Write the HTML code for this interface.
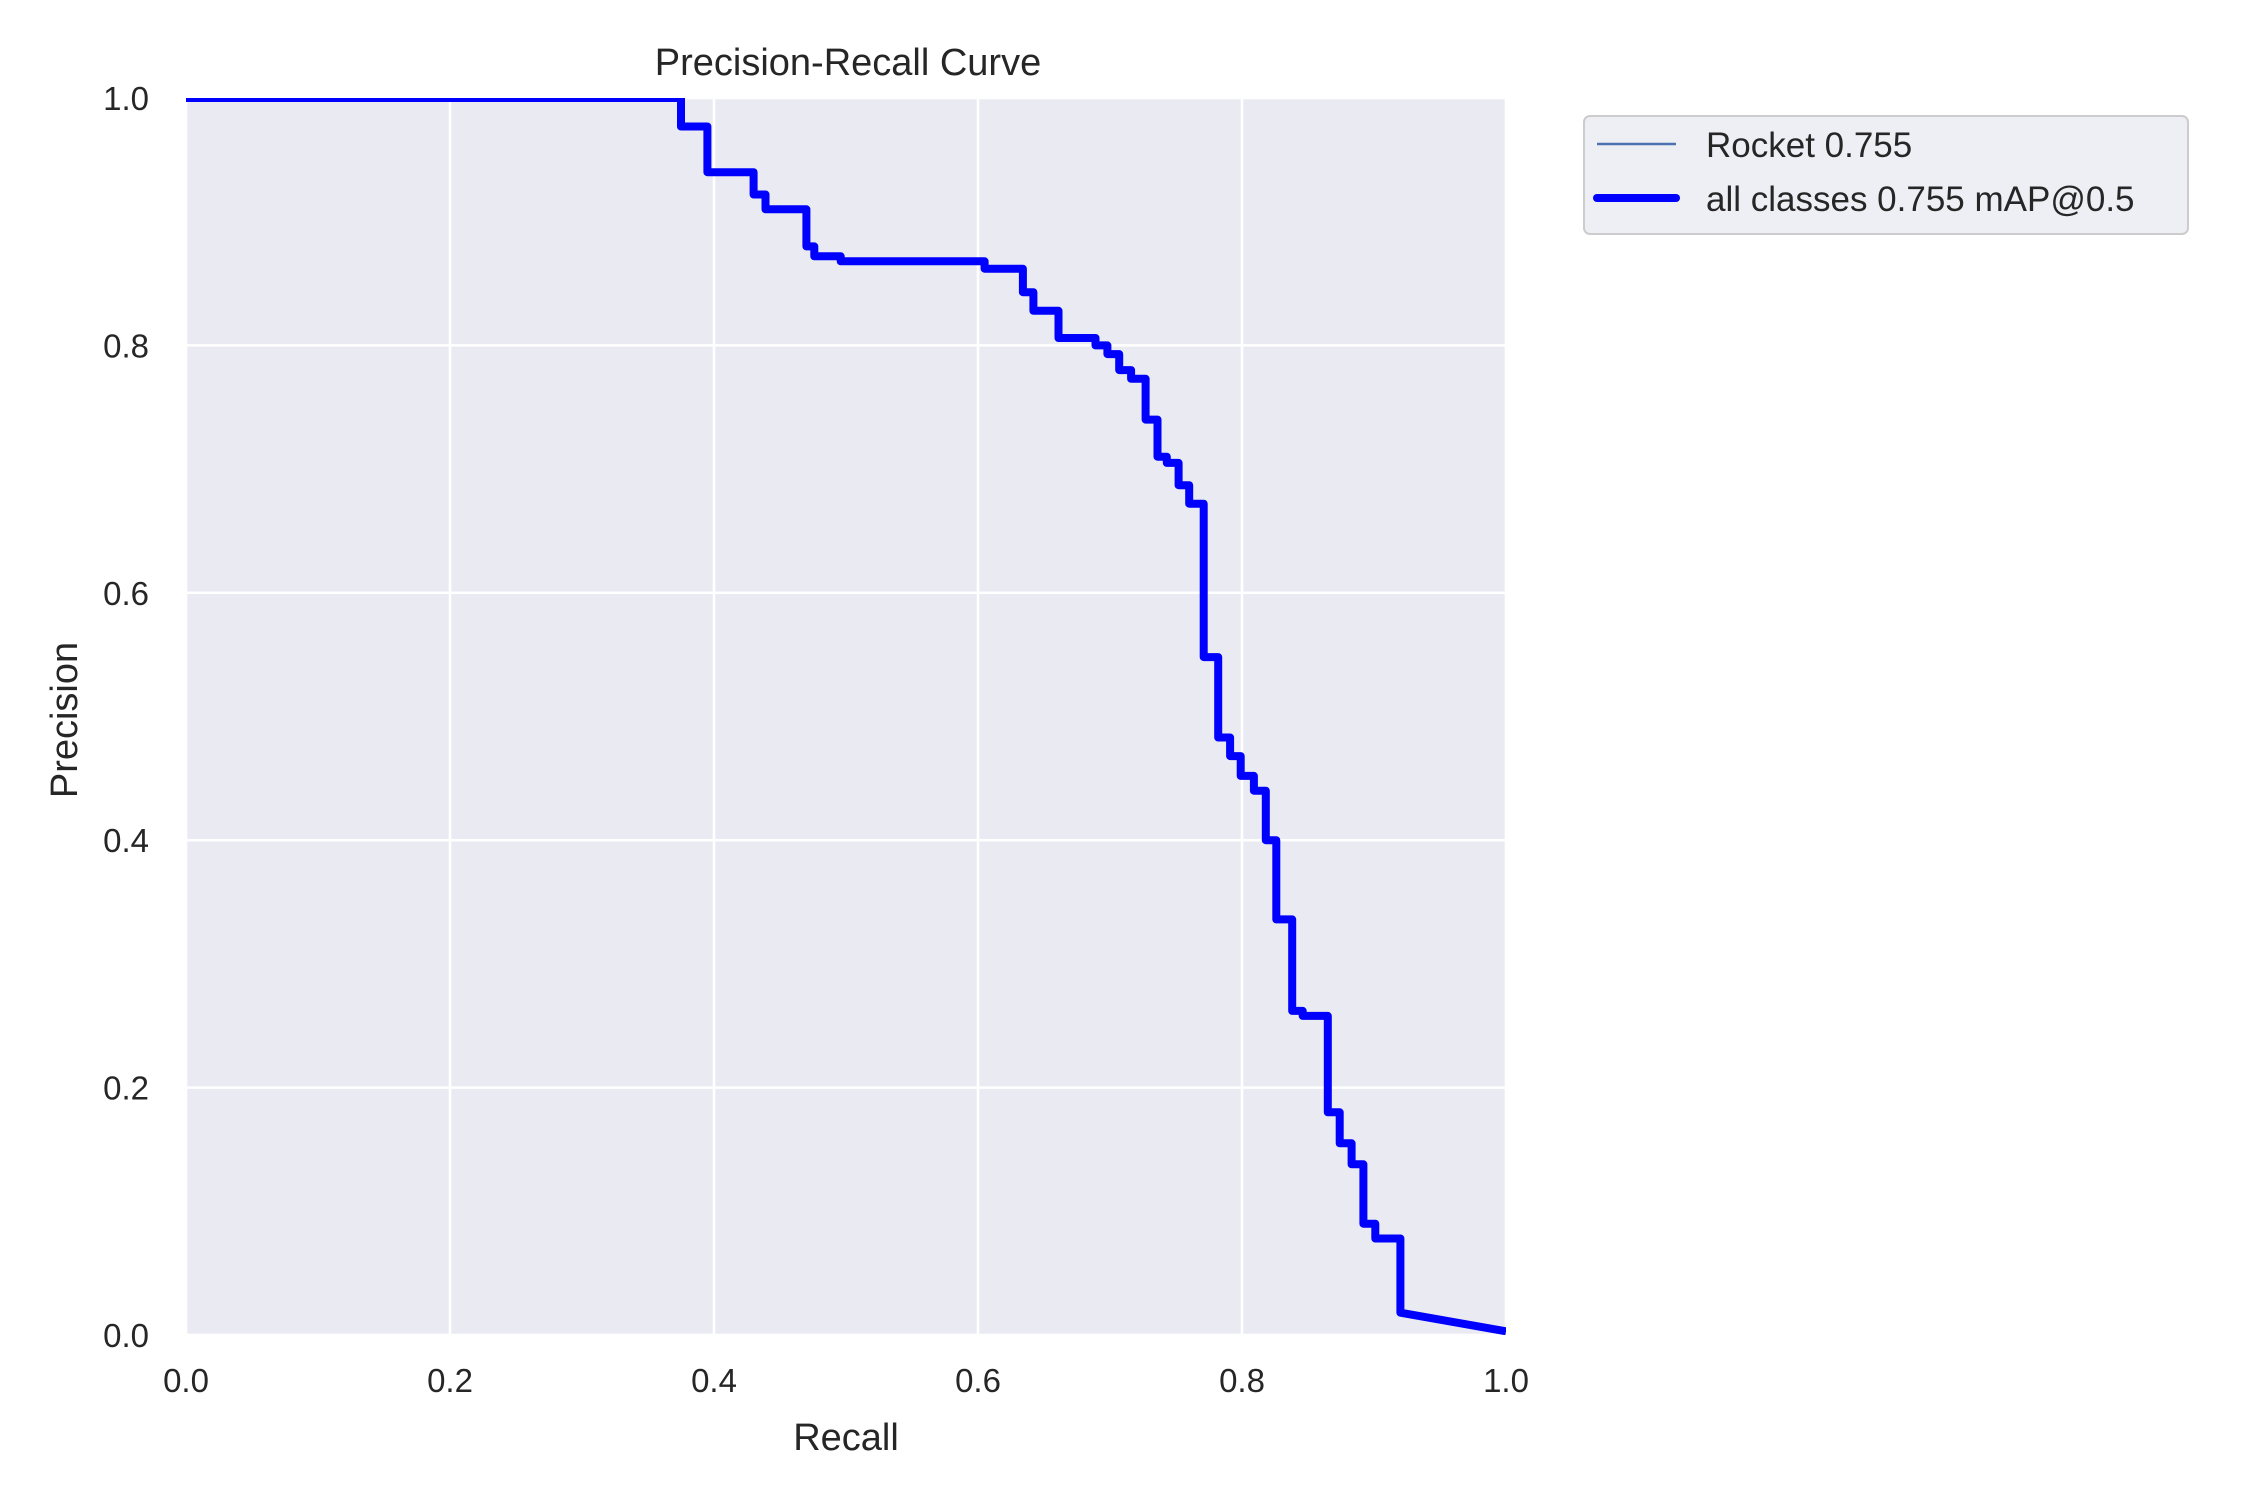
<!DOCTYPE html>
<html><head><meta charset="utf-8"><style>
body{margin:0;background:#fff;}
svg text{font-family:"Liberation Sans",Arial,sans-serif;fill:#262626;}
</style></head><body>
<svg width="2250" height="1500" viewBox="0 0 2250 1500">
<defs><clipPath id="clip"><rect x="186" y="98" width="1320" height="1237"/></clipPath></defs>
<rect width="2250" height="1500" fill="#fff"/>
<g id="plot"></g>
<text x="848" y="75" font-size="38" text-anchor="middle">Precision-Recall Curve</text>
<text x="846" y="1450" font-size="38" text-anchor="middle">Recall</text>
<text x="0" y="0" font-size="38" text-anchor="middle" transform="translate(77,720) rotate(-90)">Precision</text>
<g>
<rect x="1584" y="116" width="604" height="118" rx="6" fill="#eaeaf2" fill-opacity="0.8" stroke="#cccccc" stroke-width="2"/>
<line x1="1597" y1="144" x2="1676" y2="144" stroke="#4c72b0" stroke-width="2.5"/>
<text x="1706" y="157" font-size="35">Rocket 0.755</text>
<line x1="1597" y1="198" x2="1676" y2="198" stroke="#0000ff" stroke-width="8" stroke-linecap="round"/>
<text x="1706" y="211" font-size="35">all classes 0.755 mAP@0.5</text>
</g>
</svg>
<script>
const recall=[0,0.375,0.375,0.395,0.395,0.43,0.43,0.439,0.439,0.47,0.47,0.476,0.476,0.496,0.496,0.605,0.605,0.634,0.634,0.642,0.642,0.661,0.661,0.689,0.689,0.698,0.698,0.707,0.707,0.716,0.716,0.727,0.727,0.736,0.736,0.743,0.743,0.752,0.752,0.76,0.76,0.771,0.771,0.782,0.782,0.791,0.791,0.799,0.799,0.809,0.809,0.818,0.818,0.826,0.826,0.838,0.838,0.846,0.846,0.865,0.865,0.874,0.874,0.883,0.883,0.892,0.892,0.901,0.901,0.92,0.92,1.0];
const precision=[1,1,0.977,0.977,0.94,0.94,0.922,0.922,0.91,0.91,0.88,0.88,0.872,0.872,0.868,0.868,0.862,0.862,0.843,0.843,0.828,0.828,0.806,0.806,0.8,0.8,0.793,0.793,0.78,0.78,0.773,0.773,0.74,0.74,0.71,0.71,0.705,0.705,0.687,0.687,0.672,0.672,0.548,0.548,0.483,0.483,0.468,0.468,0.452,0.452,0.44,0.44,0.4,0.4,0.336,0.336,0.262,0.262,0.258,0.258,0.18,0.18,0.155,0.155,0.138,0.138,0.09,0.09,0.078,0.078,0.018,0.003];
const xTicks=[0,0.2,0.4,0.6,0.8,1.0];
const yTicks=[0,0.2,0.4,0.6,0.8,1.0];
const xTickLabels=["0.0","0.2","0.4","0.6","0.8","1.0"];
const yTickLabels=["0.0","0.2","0.4","0.6","0.8","1.0"];
const L=186,R=1506,T=98,B=1335;
const sx=v=>L+v*(R-L), sy=v=>B-v*(B-T);
const NS="http://www.w3.org/2000/svg";
const g=document.getElementById('plot');
function mk(t,a){const e=document.createElementNS(NS,t);for(const k in a)e.setAttribute(k,a[k]);g.appendChild(e);return e;}
let e=mk('rect',{x:L,y:T,width:R-L,height:B-T,fill:'#eaeaf2'});


xTicks.forEach((v,i)=>{
 const l=mk('line',{x1:sx(v),x2:sx(v),y1:T,y2:B,stroke:'#fff','stroke-width':2.5});
 
 
 const t=mk('text',{x:sx(v),y:B+57,'font-size':33,'text-anchor':'middle'});t.textContent=xTickLabels[i];
 
 
});
yTicks.forEach((v,i)=>{
 const l=mk('line',{x1:L,x2:R,y1:sy(v),y2:sy(v),stroke:'#fff','stroke-width':2.5});
 
 
 const t=mk('text',{x:L-37,y:sy(v)+12,'font-size':33,'text-anchor':'end'});t.textContent=yTickLabels[i];
 
 
});
const pts=recall.map((r,i)=>sx(r).toFixed(1)+','+sy(precision[i]).toFixed(1)).join(' ');
const p2=mk('polyline',{points:pts,fill:'none',stroke:'#4c72b0','stroke-width':1.5,'clip-path':'url(#clip)'});


const p1=mk('polyline',{points:pts,fill:'none',stroke:'#0000ff','stroke-width':8,'stroke-linejoin':'round','clip-path':'url(#clip)'});


</script>
</body></html>
